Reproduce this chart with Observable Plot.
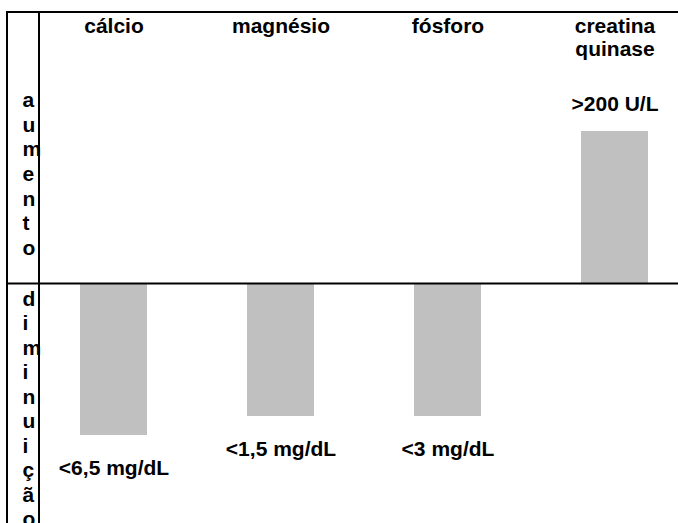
<!DOCTYPE html>
<html>
<head>
<meta charset="utf-8">
<script src="https://cdn.jsdelivr.net/npm/d3@7"></script>
<script src="https://cdn.jsdelivr.net/npm/@observablehq/plot@0.6"></script>
<style>
  html, body { margin: 0; padding: 0; background: #fff; overflow: hidden; }
</style>
</head>
<body>
<script>
// ---- data ----
const categories = ["cálcio", "magnésio", "fósforo", "creatina quinase"];
// relative change (schematic): positive = aumento, negative = diminuição
const values = [-1.0, -0.875, -0.875, 1.0];
const thresholds = ["<6,5 mg/dL", "<1,5 mg/dL", "<3 mg/dL", ">200 U/L"];
const sideLabels = ["aumento", "diminuição"];

const data = categories.map((c, i) => ({name: c, value: values[i], label: thresholds[i]}));
const sides = sideLabels.map((s, i) => ({text: s.split("").join("\n"), value: 0, up: i === 0}));

const FONT = "Arial, 'Liberation Sans', sans-serif";
const FS = 21;

function borders(index, scales, values, dims) {
  const g = d3.create("svg:g").attr("stroke", "black").attr("stroke-width", 2);
  const l = dims.marginLeft, t = dims.marginTop, W = dims.width, H = dims.height;
  g.append("line").attr("x1", l - 1).attr("x2", W).attr("y1", t).attr("y2", t);
  g.append("line").attr("x1", l).attr("x2", l).attr("y1", t).attr("y2", H);
  g.append("line").attr("x1", l + 32).attr("x2", l + 32).attr("y1", t).attr("y2", H);
  return g.node();
}

const common = {fontSize: FS, fontWeight: "bold", fontFamily: FONT, fill: "black"};

const chart = Plot.plot({
  width: 678,
  height: 523,
  marginLeft: 7,
  marginTop: 12,
  marginRight: 0,
  marginBottom: 0,
  style: {fontFamily: FONT, fontSize: FS + "px", background: "white", color: "black"},
  x: {domain: categories, range: [46, 682], paddingInner: 0.6, paddingOuter: 0.2, axis: null},
  y: {domain: [-1, 1], range: [435, 131], axis: null},
  marks: [
    Plot.barY(data, {x: "name", y: "value", fill: "#c0c0c0"}),
    Plot.ruleY([0], {stroke: "black", strokeWidth: 2}),
    borders,
    // category headers
    Plot.text(data, {
      x: "name", text: d => d.name.replace(" ", "\n"),
      frameAnchor: "top", lineAnchor: "top", lineHeight: 1.071, dy: 5,
      ...common
    }),
    // threshold labels below negative bars
    Plot.text(data.filter(d => d.value < 0), {
      x: "name", y: "value", text: "label",
      lineAnchor: "top", dy: 25, ...common
    }),
    // threshold labels above positive bars
    Plot.text(data.filter(d => d.value > 0), {
      x: "name", y: "value", text: "label",
      lineAnchor: "bottom", dy: -21, ...common
    }),
    // vertical side labels
    Plot.text(sides.filter(d => d.up), {
      y: "value", text: "text", frameAnchor: "left", dx: 15, textAnchor: "start",
      lineAnchor: "bottom", lineHeight: 1.167, dy: -29, ...common
    }),
    Plot.text(sides.filter(d => !d.up), {
      y: "value", text: "text", frameAnchor: "left", dx: 15, textAnchor: "start",
      lineAnchor: "top", lineHeight: 1.167, dy: 4.6, ...common
    })
  ]
});
document.body.appendChild(chart);
</script>
</body>
</html>
